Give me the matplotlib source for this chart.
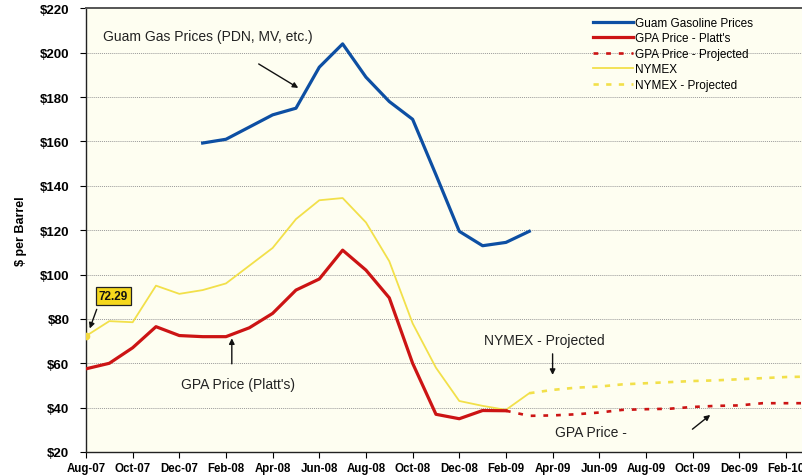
import numpy as np
import matplotlib
matplotlib.use("Agg")
import matplotlib.pyplot as plt

plt.rcParams['font.family'] = ['Liberation Sans', 'DejaVu Sans']

# ---------------- data ----------------
months = ['Aug-07', 'Sep-07', 'Oct-07', 'Nov-07', 'Dec-07', 'Jan-08', 'Feb-08', 'Mar-08',
          'Apr-08', 'May-08', 'Jun-08', 'Jul-08', 'Aug-08', 'Sep-08', 'Oct-08', 'Nov-08',
          'Dec-08', 'Jan-09', 'Feb-09', 'Mar-09', 'Apr-09', 'May-09', 'Jun-09', 'Jul-09',
          'Aug-09', 'Sep-09', 'Oct-09', 'Nov-09', 'Dec-09', 'Jan-10', 'Feb-10', 'Mar-10']

guam_start = 5
guam_gasoline = [159.3, 161, 166.5, 172, 175, 193.5, 204, 189, 178, 170, 145, 119.5,
                 113, 114.5, 119.5]

gpa_start = 0
gpa_platts = [57.5, 60, 67, 76.5, 72.5, 72, 72, 76, 82.5, 93, 98, 111, 102, 89.5, 60,
              37, 35, 38.7, 38.6]

gpa_proj_start = 18
gpa_projected = [38.6, 36.3, 36.5, 37, 37.8, 39, 39.3, 39.5, 40.3, 40.8, 41, 42, 42, 42]

nymex_start = 0
nymex = [72.29, 79, 78.5, 95, 91.3, 93, 96, 104, 112, 125, 133.5, 134.5, 123.5, 106,
         78, 58, 43, 40.8, 39, 46.5]

nymex_proj_start = 19
nymex_projected = [46.5, 48, 49, 49.5, 50.5, 51, 51.5, 52, 52.3, 52.8, 53.3, 53.8, 54]

yticks = [20, 40, 60, 80, 100, 120, 140, 160, 180, 200, 220]

# ---------------- figure ----------------
fig = plt.figure(figsize=(8.03, 4.77), dpi=100)
ax = fig.add_axes([86 / 803, 1 - 453 / 477, 1 - 86 / 803, (453 - 9.4) / 477])
ax.set_facecolor('#FEFEF1')

def xs(start, vals):
    return np.arange(start, start + len(vals))

blue = '#0D4FA3'
red = '#CC1414'
yellow = '#F2E04A'

l1, = ax.plot(xs(guam_start, guam_gasoline), guam_gasoline, color=blue, lw=2.3,
              label='Guam Gasoline Prices', zorder=4)
l2, = ax.plot(xs(gpa_start, gpa_platts), gpa_platts, color=red, lw=2.3,
              label="GPA Price - Platt's", zorder=4)
l3, = ax.plot(xs(gpa_proj_start, gpa_projected), gpa_projected, color=red, lw=1.9,
              linestyle=(0, (1.8, 3.0)), label='GPA Price - Projected', zorder=4)
l4, = ax.plot(xs(nymex_start, nymex), nymex, color=yellow, lw=1.3, label='NYMEX', zorder=3)
l5, = ax.plot(xs(nymex_proj_start, nymex_projected), nymex_projected, color=yellow, lw=1.9,
              linestyle=(0, (2.0, 2.8)), label='NYMEX - Projected', zorder=3)
ax.plot([0], [nymex[0]], marker='o', ms=4.5, color='#F2D840', zorder=5)

ax.set_xlim(0, (803 - 86) / 23.33)
ax.set_ylim(20, 220)
ax.set_yticks(yticks)
ax.set_yticklabels(['${}'.format(v) for v in yticks], fontsize=9.5, fontweight='bold')
ax.set_xticks(range(0, len(months), 2))
ax.set_xticklabels(months[::2], fontsize=8.3, fontweight='bold')
ax.tick_params(axis='x', length=4, width=0.8, pad=3, direction='out')
ax.tick_params(axis='y', length=4, width=0.8, pad=8, direction='out')

for v in yticks[1:-1]:
    ax.axhline(v, color='#9A9A9A', lw=0.7, linestyle=(0, (1, 1)), zorder=1)

for s in ['left', 'bottom']:
    ax.spines[s].set_color('#222222')
    ax.spines[s].set_linewidth(1.0)
ax.spines['top'].set_color('#555555')
ax.spines['top'].set_linewidth(1.4)
ax.spines['right'].set_visible(False)

ax.set_ylabel('$ per Barrel', fontsize=9, fontweight='bold', labelpad=9)

# ---------------- legend ----------------
leg = ax.legend(handles=[l1, l2, l3, l4, l5], loc='upper left',
                bbox_to_anchor=((588 - 86) / 717, 1 - (13 - 9.4) / 443.6),
                frameon=False, fontsize=8.5, handlelength=3.4, handletextpad=0.15,
                labelspacing=0.3, borderaxespad=0)

# ---------------- annotations ----------------
ax.annotate('', xy=(9.2, 183.5), xytext=(7.3, 195.6),
            arrowprops=dict(arrowstyle='-|>', color='#111111', lw=1.0, mutation_scale=8))
ax.text(0.75, 207.5, 'Guam Gas Prices (PDN, MV, etc.)', fontsize=10, color='#222222',
        va='center', ha='left')

ax.annotate('', xy=(6.25, 72.5), xytext=(6.25, 58.5),
            arrowprops=dict(arrowstyle='-|>', color='#111111', lw=1.0, mutation_scale=8))
ax.text(6.5, 50.5, "GPA Price (Platt's)", fontsize=10, color='#222222',
        va='center', ha='center')

ax.annotate('', xy=(20.0, 53.5), xytext=(20.0, 65.5),
            arrowprops=dict(arrowstyle='-|>', color='#111111', lw=1.0, mutation_scale=8))
ax.text(17.05, 70.5, 'NYMEX - Projected', fontsize=10, color='#222222',
        va='center', ha='left')

ax.annotate('', xy=(26.85, 37.5), xytext=(25.9, 29.5),
            arrowprops=dict(arrowstyle='-|>', color='#111111', lw=1.0, mutation_scale=8))
ax.text(20.1, 29.2, 'GPA Price -', fontsize=10, color='#222222',
        va='center', ha='left')

ax.annotate('', xy=(0.12, 74.5), xytext=(0.5, 85.5),
            arrowprops=dict(arrowstyle='-|>', color='#111111', lw=1.0, mutation_scale=8))
ax.text(0.55, 90.3, '72.29', fontsize=8.5, fontweight='bold', color='#111111',
        va='center', ha='left',
        bbox=dict(boxstyle='square,pad=0.25', fc='#F5D81C', ec='#222222', lw=0.9))

fig.savefig('out.png', dpi=100, facecolor='white')
